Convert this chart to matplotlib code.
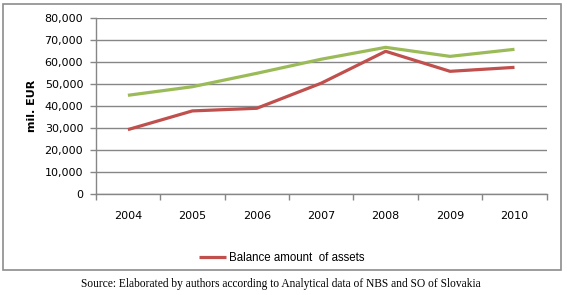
import matplotlib
matplotlib.use("Agg")
import matplotlib.pyplot as plt
from matplotlib.patches import Rectangle
from matplotlib.ticker import FuncFormatter, FixedLocator

years = ["2004", "2005", "2006", "2007", "2008", "2009", "2010"]
balance_assets = [29400, 37900, 39100, 50500, 65000, 55900, 57700]
other_series = [45000, 48900, 55000, 61400, 66800, 62700, 65900]
y_ticks = [0, 10000, 20000, 30000, 40000, 50000, 60000, 70000, 80000]

W, H = 567, 295
fig = plt.figure(figsize=(W / 100, H / 100), dpi=100)

# chart border
fig.patches.append(Rectangle((3 / W, 1 - 270 / H), (561 - 3) / W, (270 - 4) / H,
                             transform=fig.transFigure, fill=False,
                             edgecolor="#8c8c8c", linewidth=1.2))

left, right, top, bottom = 95.7, 546.7, 18.3, 194.3
ax = fig.add_axes([left / W, 1 - bottom / H, (right - left) / W, (bottom - top) / H])

x = list(range(len(years)))
red, = ax.plot(x, balance_assets, color="#C0504D", linewidth=2.3,
               solid_capstyle="butt", label="Balance amount  of assets", zorder=3)
ax.plot(x, other_series, color="#9BBB59", linewidth=2.3,
        solid_capstyle="butt", zorder=3)

ax.set_xlim(-0.5, len(years) - 0.5)
ax.set_ylim(0, 80000)
ax.set_yticks(y_ticks)
ax.yaxis.set_major_formatter(FuncFormatter(lambda v, p: f"{int(v):,}"))
ax.set_xticks(x)
ax.set_xticklabels(years)
ax.xaxis.set_minor_locator(FixedLocator([i - 0.5 for i in range(len(years) + 1)]))
ax.tick_params(axis="x", which="major", length=0, pad=12, labelsize=8)
ax.tick_params(axis="x", which="minor", length=4, color="#868686", width=1)
ax.tick_params(axis="y", length=4, color="#868686", width=1, labelsize=8, pad=5)

ax.grid(axis="y", color="#868686", linewidth=1)
ax.set_axisbelow(True)
for s in ["top", "right"]:
    ax.spines[s].set_visible(False)
for s in ["left", "bottom"]:
    ax.spines[s].set_color("#868686")
    ax.spines[s].set_linewidth(1)

ax.set_ylabel("mil. EUR", fontsize=8, fontweight="bold")
ax.yaxis.set_label_coords(-0.13, 0.5)

fig.legend(handles=[red], loc="center", bbox_to_anchor=(282 / W, 1 - 258 / H),
           frameon=False, prop={"family": "Liberation Sans", "size": 8.3},
           handlelength=2.3, handletextpad=0.3)

fig.text(281 / W, 1 - 284 / H,
         "Source: Elaborated by authors according to Analytical data of NBS and SO of Slovakia",
         ha="center", va="center", fontsize=8.3, family="Liberation Serif")

fig.savefig("out.png", dpi=100)
